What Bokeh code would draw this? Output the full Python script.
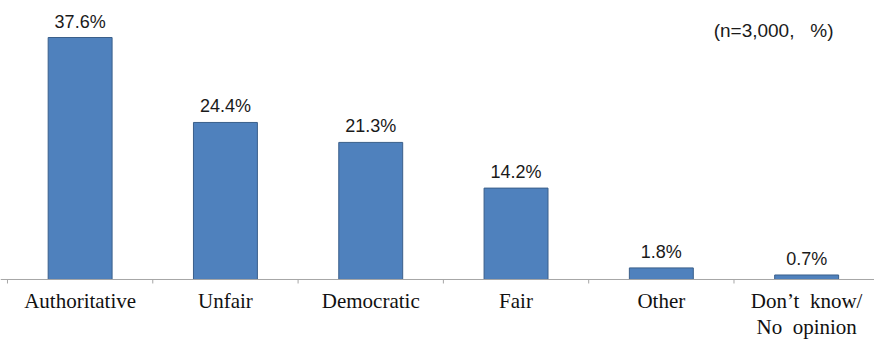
from bokeh.plotting import figure
from bokeh.models import ColumnDataSource, Range1d, Label, Span
from bokeh.core.properties import value
from bokeh.embed import file_html
from bokeh.resources import INLINE

# Survey answers and their shares (%)
categories = ["Authoritative", "Unfair", "Democratic", "Fair", "Other", "Don\u2019t\u00a0 know/\nNo\u00a0 opinion"]
shares = [37.6, 24.4, 21.3, 14.2, 1.8, 0.7]
value_labels = ["37.6%", "24.4%", "21.3%", "14.2%", "1.8%", "0.7%"]
note = "(n=3,000,\u00a0\u00a0 %)"

W, H = 874, 340
positions = list(range(len(categories)))
boundaries = [i - 0.5 for i in range(len(categories) + 1)]

# plot area spans the whole canvas; the category strip sits below zero
y_lo, y_hi = -9.478, 43.35
px_per_unit = H / (y_hi - y_lo)
tick_len = 4 / px_per_unit

# category names, one row per text line
LINE_GAP = 26
cat_x, cat_text, cat_off = [], [], []
for i, name in enumerate(categories):
    for k, line in enumerate(name.split("\n")):
        cat_x.append(i)
        cat_text.append(line)
        cat_off.append(10 + LINE_GAP * k)

bars = ColumnDataSource(dict(x=positions, top=shares, label=value_labels))
cats = ColumnDataSource(dict(x=cat_x, y=[0] * len(cat_x), name=cat_text, off=cat_off))
ticks = ColumnDataSource(dict(x=boundaries, y0=[0] * len(boundaries),
                              y1=[-tick_len] * len(boundaries)))

p = figure(width=W, height=H, output_backend="svg", toolbar_location=None,
           min_border=0, x_range=Range1d(-0.548, 5.467), y_range=Range1d(y_lo, y_hi))
p.outline_line_color = None
p.grid.visible = False
p.axis.visible = False
p.background_fill_color = "white"
p.border_fill_color = "white"

p.vbar(x="x", top="top", width=0.44, bottom=0, source=bars,
       fill_color="#4F81BD", line_color="#3A5F8A", line_width=1)

# category axis: baseline, boundary ticks and labels
p.add_layout(Span(location=0, dimension="width", line_color="#A6A6A6", line_width=1))
p.segment(x0="x", y0="y0", x1="x", y1="y1", source=ticks, line_color="#A6A6A6", line_width=1)
p.text(x="x", y="y", text="name", source=cats, text_align="center",
       text_baseline="top", y_offset="off", text_font=value("Liberation Serif"),
       text_font_size="21px", text_color="#111111")

p.text(x="x", y="top", text="label", source=bars, text_align="center",
       text_baseline="bottom", y_offset=-6, text_font=value("Liberation Sans"),
       text_font_size="18px", text_color="#1a1a1a")

p.add_layout(Label(x=5.185, y=38.7, text=note, text_align="right", text_baseline="middle",
                   text_font="Liberation Sans", text_font_size="19px", text_color="#1a1a1a"))

open("out.html", "w").write(file_html(p, INLINE))
